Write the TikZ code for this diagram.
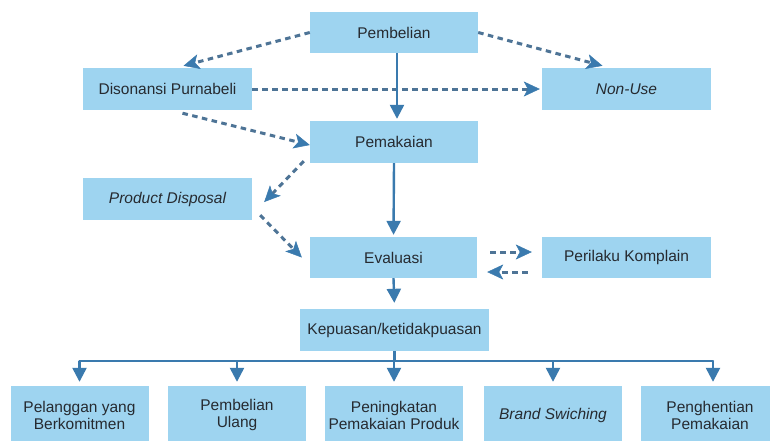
\documentclass[tikz,border=0pt]{standalone}
\usepackage{fontspec}
\setmainfont{Liberation Sans}
\usetikzlibrary{arrows.meta,calc}
\definecolor{boxblue}{RGB}{158,212,240}
\definecolor{arrowblue}{RGB}{58,122,174}
\definecolor{dashblue}{RGB}{78,116,150}
\definecolor{txt}{RGB}{38,42,48}
\begin{document}
\begin{tikzpicture}[x=1pt,y=-1pt,
  box/.style={fill=boxblue, inner sep=0pt, minimum width=169pt, minimum height=42pt,
    text=txt, font=\fontsize{15.5}{17}\selectfont, align=center},
  bbox/.style={box, minimum width=138pt, minimum height=58pt},
  solidarrow/.style={draw=arrowblue, line width=2.4pt, -{Triangle[length=14pt,width=14pt,color=arrowblue]}},
  busline/.style={draw=arrowblue, line width=2.2pt},
  dasharrow/.style={draw=dashblue, line width=3pt, dash pattern=on 5.5pt off 4.5pt,
    -{Stealth[length=16pt,width=15pt,inset=4pt,color=arrowblue,line width=0.5pt]}}
]
\useasboundingbox (0,0) rectangle (770,440);
\fill[white] (0,0) rectangle (770,440);

\node[box, minimum width=168pt, minimum height=41pt] (p) at (394,32.5) {Pembelian};
\node[box] (d) at (167.5,89) {Disonansi Purnabeli};
\node[box] (n) at (626.5,89) {\itshape Non-Use};
\node[box, minimum width=168pt] (pm) at (394,142) {Pemakaian};
\node[box] (pd) at (167.5,199) {\itshape Product Disposal};
\node[box, minimum width=167pt, minimum height=41pt] (e) at (393.5,257.5) {Evaluasi};
\node[box, minimum height=41pt] (pk) at (626.5,257.5) {Perilaku Komplain};
\node[box, minimum width=189pt] (k) at (394.5,330) {Kepuasan/ketidakpuasan};

\node[bbox] (b1) at (79.5,415) {Pelanggan yang\\Berkomitmen};
\node[bbox] (b2) at (237,415) {Pembelian\\Ulang};
\node[bbox] (b3) at (394,415) {Peningkatan\\Pemakaian Produk};
\node[bbox] (b4) at (553,415) {\itshape Brand Swiching};
\node[bbox] (b5) at (710,415) {Penghentian\\Pemakaian};

% dashed connectors
\draw[dasharrow] (p.west) -- ([xshift=16pt,yshift=2pt]d.north);
\draw[dasharrow] (p.east) -- ([xshift=-24pt,yshift=2pt]n.north);
\draw[dasharrow] (d.east) -- ([xshift=-2pt]n.west);
\draw[dasharrow] ([xshift=15pt,yshift=-3pt]d.south) -- ([yshift=-3pt]pm.west);
\draw[dasharrow] ([xshift=-6pt,yshift=2pt]pm.south west) -- ([xshift=12pt,yshift=-3pt]pd.east);
\draw[dasharrow] ([xshift=8pt,yshift=5pt]pd.south east) -- ([xshift=-8pt]e.west);
\draw[dasharrow] ([xshift=13pt,yshift=5.5pt]e.east) -- ([xshift=-10pt,yshift=5.5pt]pk.west);
\draw[dasharrow] ([xshift=-14pt,yshift=-14.5pt]pk.west) -- ([xshift=10pt,yshift=-14.5pt]e.east);

% solid connectors
\draw[solidarrow, shorten >=2pt] ([xshift=3pt]p.south) -- ([xshift=3pt]pm.north);
\draw[solidarrow, shorten >=2pt] (pm.south) -- (e.north);
\draw[solidarrow, shorten >=6pt] (e.south) -- (k.north);

\coordinate (bus) at (394.5,361);
\draw[busline] (k.south) -- (bus);
\draw[busline, line cap=round] (b1.north |- bus) -- ([xshift=3pt]b5.north |- bus);
\foreach \b in {b1,b2,b3,b4} {
  \draw[solidarrow] (\b.north |- bus) -- ([yshift=4pt]\b.north);
}
\draw[solidarrow] ([xshift=3pt]b5.north |- bus) -- ([xshift=3pt,yshift=4pt]b5.north);
\end{tikzpicture}
\end{document}
